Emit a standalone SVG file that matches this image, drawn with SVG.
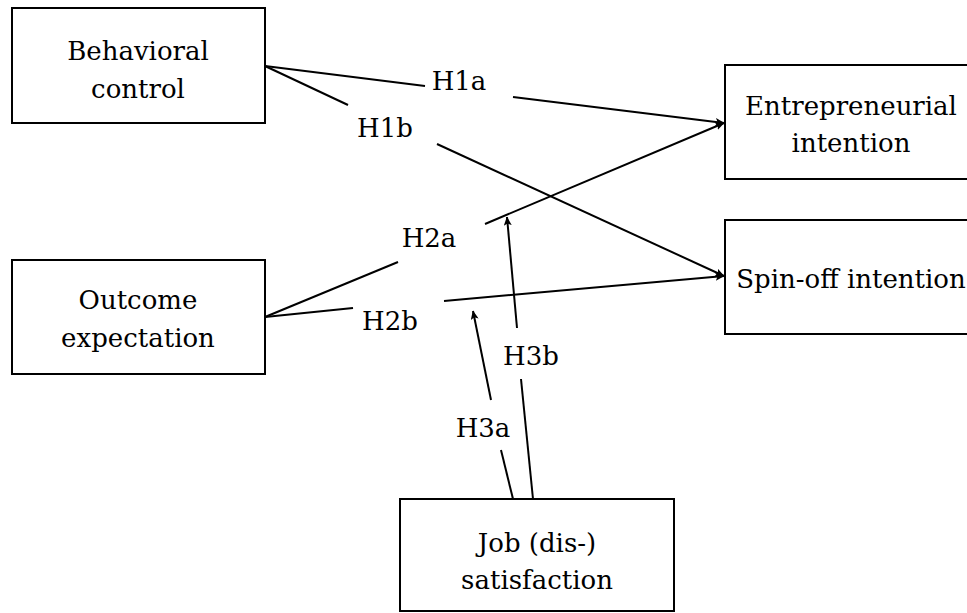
<svg xmlns="http://www.w3.org/2000/svg" width="967" height="613" viewBox="0 0 967 613">
<style>
.box{fill:#fff;stroke:#000;stroke-width:2}
.t{font-family:"DejaVu Serif",serif;font-size:26px;fill:#000;text-anchor:middle}
.c{fill:none;stroke:#000;stroke-width:2}
</style>
<defs>
<marker id="ah" markerWidth="9" markerHeight="8" refX="8.5" refY="4" orient="auto" markerUnits="userSpaceOnUse">
<path d="M0,0 L9,4 L0,8 L2,4 Z" fill="#000"/>
</marker>
</defs>
<rect width="967" height="613" fill="#fff"/>
<g id="connectors">
<line class="c" x1="265" y1="66" x2="425" y2="86"/>
<line class="c" x1="513" y1="97" x2="724" y2="123" marker-end="url(#ah)"/>
<line class="c" x1="265" y1="66" x2="348" y2="105"/>
<line class="c" x1="437" y1="144" x2="724" y2="276" marker-end="url(#ah)"/>
<line class="c" x1="265" y1="317" x2="398" y2="262"/>
<line class="c" x1="485" y1="224" x2="724" y2="123" marker-end="url(#ah)"/>
<line class="c" x1="265" y1="317" x2="353" y2="308"/>
<line class="c" x1="444" y1="301" x2="724" y2="276" marker-end="url(#ah)"/>
<line class="c" x1="513" y1="499" x2="501" y2="450"/>
<line class="c" x1="491" y1="400" x2="473" y2="311" marker-end="url(#ah)"/>
<line class="c" x1="533" y1="499" x2="521" y2="379"/>
<line class="c" x1="517" y1="328" x2="507" y2="217" marker-end="url(#ah)"/>
<text class="t" x="459" y="90">H1a</text>
<text class="t" x="385" y="137">H1b</text>
<text class="t" x="429" y="247">H2a</text>
<text class="t" x="390" y="330">H2b</text>
<text class="t" x="483" y="437">H3a</text>
<text class="t" x="531" y="365">H3b</text>
</g>
<g id="behavioral-control">
<rect class="box" x="12" y="8" width="253" height="115"/>
<text class="t" x="138" y="60">Behavioral</text>
<text class="t" x="138" y="98">control</text>
</g>
<g id="outcome-expectation">
<rect class="box" x="12" y="260" width="253" height="114"/>
<text class="t" x="138" y="309">Outcome</text>
<text class="t" x="138" y="347">expectation</text>
</g>
<g id="entrepreneurial-intention">
<rect class="box" x="725" y="65" width="253" height="114"/>
<text class="t" x="851" y="115">Entrepreneurial</text>
<text class="t" x="851" y="152">intention</text>
</g>
<g id="spin-off-intention">
<rect class="box" x="725" y="220" width="253" height="114"/>
<text class="t" x="851" y="288">Spin-off intention</text>
</g>
<g id="job-satisfaction">
<rect class="box" x="400" y="499" width="274" height="112"/>
<text class="t" x="537" y="552">Job (dis-)</text>
<text class="t" x="537" y="589">satisfaction</text>
</g>
</svg>
